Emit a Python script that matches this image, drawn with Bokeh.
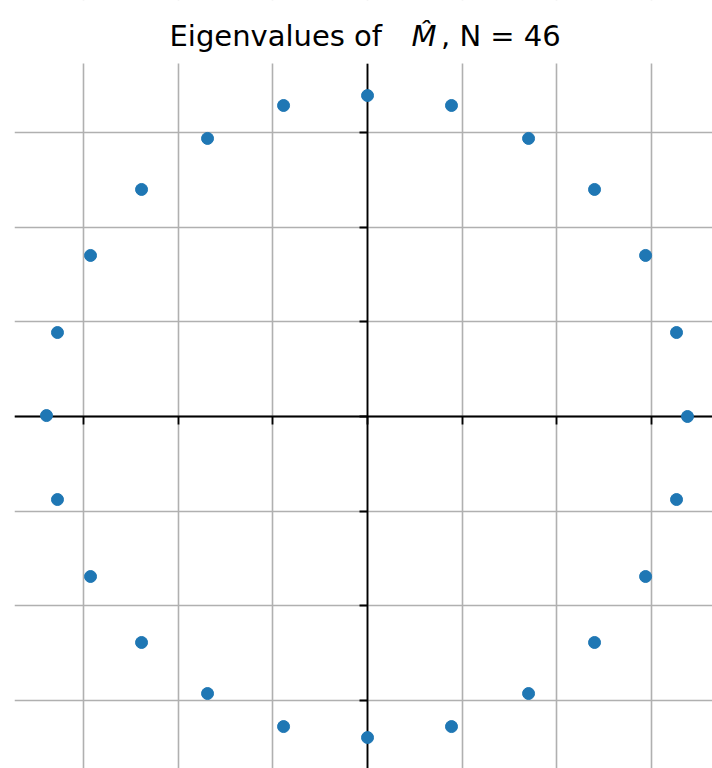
from bokeh.plotting import figure
from bokeh.models import FixedTicker, Label, Range1d, BoxAnnotation
from bokeh.embed import file_html
from bokeh.resources import INLINE

# eigenvalues (grid spacing = 1 unit)
re_vals = [0.00, 0.887, 1.701, 2.398, 2.937, 3.264, 3.380, 3.264, 2.937, 2.398, 1.701, 0.887,
           0.00, -0.887, -1.690, -2.387, -2.926, -3.275, -3.391, -3.275, -2.926, -2.387, -1.690, -0.887]
im_vals = [3.390, 3.285, 2.937, 2.398, 1.701, 0.887, 0.00, -0.877, -1.690, -2.387, -2.926, -3.275,
           -3.391, -3.275, -2.926, -2.387, -1.690, -0.877, 0.01, 0.887, 1.701, 2.398, 2.937, 3.285]
ticks = [-3, -2, -1, 0, 1, 2, 3]
title_parts = ["Eigenvalues of", "M\u0302", ", N = 46"]

W, H = 712, 768
x_lo, x_hi = -3.729, 3.644
y_lo, axes_top, y_hi = -3.718, 3.729, 4.394
p = figure(width=W, height=H, output_backend="svg", toolbar_location=None,
           x_range=Range1d(x_lo, x_hi), y_range=Range1d(y_lo, y_hi),
           min_border_left=14, min_border_right=0, min_border_top=0, min_border_bottom=0)
p.outline_line_color = None
p.background_fill_color = "white"
p.border_fill_color = "white"

for ax in (p.xaxis, p.yaxis):
    ax.fixed_location = 0
    ax.ticker = FixedTicker(ticks=ticks)
    ax.major_label_overrides = {t: "" for t in ticks}
    ax.major_label_text_font_size = "0px"
    ax.major_tick_in = 0
    ax.major_tick_out = 8
    ax.minor_tick_in = 0
    ax.minor_tick_out = 0
    ax.axis_line_color = "black"
    ax.axis_line_width = 1.8
    ax.major_tick_line_color = "black"
    ax.major_tick_line_width = 1.8
p.yaxis.bounds = (y_lo, axes_top)

for g in (p.xgrid, p.ygrid):
    g.ticker = FixedTicker(ticks=ticks)
    g.grid_line_color = "#b0b0b0"
    g.grid_line_width = 1.6

r = p.scatter(re_vals, im_vals, size=12, color="#1f77b4", line_color="#1f77b4")
r.level = "overlay"

# white band above the axes area, where the title sits
p.add_layout(BoxAnnotation(bottom=axes_top, top=y_hi + 1, left=x_lo - 1, right=x_hi + 1,
                           fill_color="white", fill_alpha=1.0,
                           line_color=None, level="annotation"))

fs = "29px"
base_y = H - 35.5
p.add_layout(Label(x=155, y=base_y, x_units="screen", y_units="screen", text=title_parts[0],
                   text_font="DejaVu Sans", text_font_size=fs, text_baseline="alphabetic",
                   text_color="black"))
p.add_layout(Label(x=397, y=base_y, x_units="screen", y_units="screen", text=title_parts[1],
                   text_font="DejaVu Sans", text_font_style="italic", text_font_size=fs,
                   text_baseline="alphabetic", text_color="black"))
p.add_layout(Label(x=426.5, y=base_y, x_units="screen", y_units="screen", text=title_parts[2],
                   text_font="DejaVu Sans", text_font_size=fs, text_baseline="alphabetic",
                   text_color="black"))

open("out.html", "w").write(file_html(p, INLINE))
